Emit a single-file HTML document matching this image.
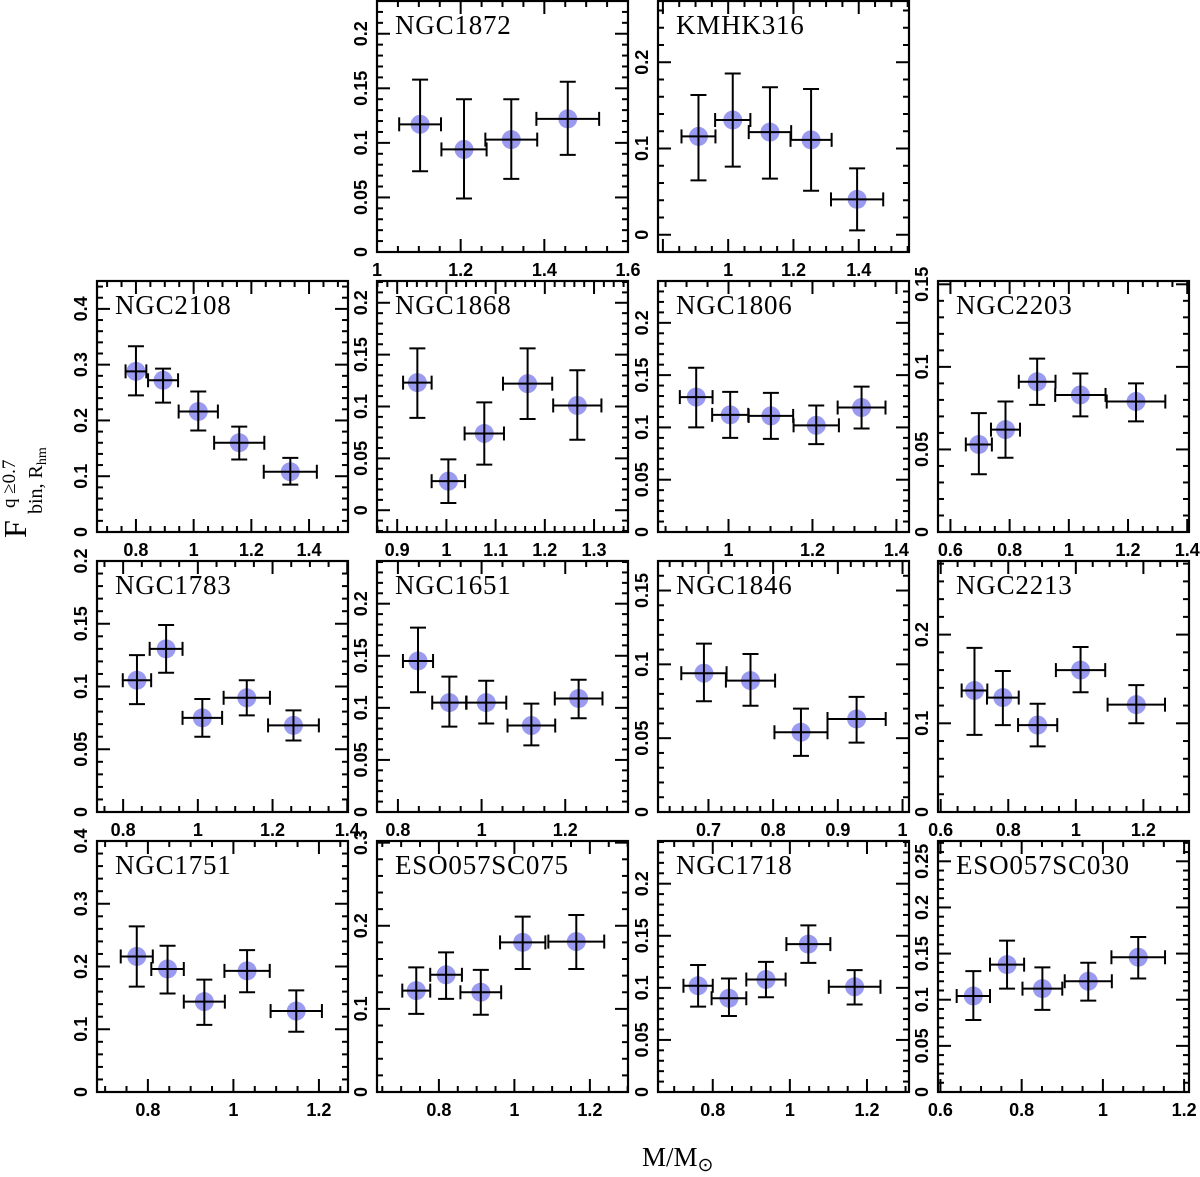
<!DOCTYPE html>
<html><head><meta charset="utf-8">
<style>
html,body{margin:0;padding:0;background:#fff;}
svg{display:block;}
.tl{font-family:"Liberation Sans",sans-serif;font-weight:bold;font-size:18px;fill:#000;}
.tt{font-family:"Liberation Serif",serif;font-size:27px;letter-spacing:0.8px;fill:#000;}
</style></head>
<body>
<svg id="fig" width="1200" height="1177" viewBox="0 0 1200 1177" xmlns="http://www.w3.org/2000/svg">
<g transform="translate(26,538) rotate(-90)">
<text x="0" y="0" font-family="Liberation Serif, serif" font-size="32">F</text>
<text x="30" y="-11" font-family="Liberation Serif, serif" font-size="19">q ≥0.7</text>
<text x="24" y="16" font-family="Liberation Serif, serif" font-size="20">bin, R<tspan font-size="14" dy="4">hm</tspan></text>
</g>
<text x="642" y="1166" font-family="Liberation Serif, serif" font-size="27">M/M<tspan font-size="19" dy="5">⊙</tspan></text>
</svg>
<script>
const panelNames=["NGC1872","KMHK316","NGC2108","NGC1868","NGC1806","NGC2203","NGC1783","NGC1651","NGC1846","NGC2213","NGC1751","ESO057SC075","NGC1718","ESO057SC030"];
const panelCol=[1,2,0,1,2,3,0,1,2,3,0,1,2,3];
const panelRow=[0,0,1,1,1,1,2,2,2,2,3,3,3,3];
const xRange=[[1,1.6],[0.785,1.554],[0.665,1.535],[0.859,1.369],[0.832,1.43],[0.558,1.406],[0.73,1.402],[0.75,1.35],[0.622,1.01],[0.592,1.335],[0.681,1.268],[0.636,1.301],[0.658,1.309],[0.594,1.212]];
const xLabelFrom=[0,0.9,0,0,0,0,0,0,0,0,0,0,0,0];
const yRange=[[0,0.23],[-0.02,0.271],[0,0.45],[-0.021,0.221],[0,0.24],[0,0.152],[0,0.2],[0,0.241],[0,0.17],[0,0.283],[0,0.4],[0,0.302],[0,0.241],[0,0.272]];
const xMajor=[0.2,0.2,0.2,0.1,0.2,0.2,0.2,0.2,0.1,0.2,0.2,0.2,0.2,0.2];
const yMajor=[0.05,0.1,0.1,0.05,0.05,0.05,0.05,0.05,0.05,0.1,0.1,0.1,0.05,0.05];
const massX=[
[1.103,1.208,1.321,1.456],
[0.909,1.014,1.128,1.254,1.395],
[0.80,0.894,1.016,1.158,1.335],
[0.941,1.004,1.077,1.165,1.266],
[0.923,1.004,1.101,1.209,1.317],
[0.696,0.786,0.893,1.039,1.227],
[0.837,0.915,1.012,1.131,1.256],
[0.848,0.923,1.011,1.119,1.232],
[0.693,0.765,0.843,0.929],
[0.70,0.784,0.887,1.014,1.179],
[0.774,0.846,0.932,1.032,1.147],
[0.74,0.819,0.911,1.022,1.164],
[0.762,0.842,0.938,1.048,1.168],
[0.681,0.764,0.851,0.964,1.087]];
const binFrac=[
[0.117,0.094,0.103,0.122],
[0.114,0.133,0.119,0.110,0.041],
[0.288,0.272,0.216,0.160,0.108],
[0.123,0.028,0.074,0.122,0.101],
[0.129,0.112,0.111,0.102,0.119],
[0.053,0.062,0.091,0.083,0.079],
[0.105,0.130,0.075,0.091,0.069],
[0.145,0.105,0.105,0.083,0.109],
[0.094,0.089,0.054,0.063],
[0.137,0.129,0.098,0.160,0.121],
[0.216,0.196,0.144,0.193,0.129],
[0.122,0.141,0.120,0.180,0.181],
[0.102,0.090,0.108,0.142,0.101],
[0.104,0.138,0.112,0.120,0.146]];
const binHi=[
[0.158,0.140,0.140,0.156],
[0.162,0.187,0.171,0.169,0.077],
[0.333,0.293,0.252,0.189,0.133],
[0.156,0.049,0.104,0.156,0.135],
[0.157,0.134,0.133,0.121,0.139],
[0.072,0.079,0.105,0.096,0.090],
[0.125,0.149,0.090,0.105,0.081],
[0.177,0.130,0.126,0.104,0.127],
[0.114,0.107,0.070,0.078],
[0.185,0.159,0.122,0.186,0.143],
[0.264,0.233,0.179,0.226,0.162],
[0.150,0.168,0.147,0.211,0.213],
[0.122,0.109,0.125,0.160,0.117],
[0.131,0.164,0.135,0.140,0.168]];
const binLo=[
[0.074,0.049,0.067,0.089],
[0.063,0.079,0.065,0.051,0.005],
[0.245,0.232,0.182,0.130,0.085],
[0.089,0.007,0.044,0.088,0.068],
[0.100,0.090,0.089,0.084,0.099],
[0.035,0.045,0.077,0.070,0.067],
[0.086,0.111,0.060,0.077,0.057],
[0.115,0.082,0.085,0.064,0.090],
[0.075,0.072,0.038,0.047],
[0.087,0.098,0.074,0.135,0.100],
[0.168,0.157,0.107,0.159,0.096],
[0.094,0.112,0.093,0.148,0.148],
[0.082,0.073,0.091,0.124,0.084],
[0.078,0.112,0.089,0.099,0.123]];
const massErr=[
[0.050,0.054,0.062,0.075],
[0.052,0.054,0.065,0.063,0.080],
[0.036,0.052,0.068,0.087,0.092],
[0.029,0.034,0.040,0.050,0.049],
[0.039,0.043,0.053,0.054,0.057],
[0.044,0.049,0.062,0.085,0.099],
[0.038,0.044,0.053,0.062,0.068],
[0.036,0.041,0.048,0.057,0.057],
[0.035,0.038,0.041,0.045],
[0.038,0.047,0.058,0.073,0.085],
[0.0375,0.038,0.048,0.053,0.060],
[0.037,0.042,0.054,0.060,0.074],
[0.038,0.045,0.051,0.057,0.067],
[0.041,0.042,0.049,0.058,0.066]];

const NS="http://www.w3.org/2000/svg";
const svg=document.getElementById('fig');
const colLeft=[97,377,658,938], rowTop=[1,281,561,841], PW=251, PH=251;
function mk(tag,attrs,parent){const e=document.createElementNS(NS,tag);for(const k in attrs)e.setAttribute(k,attrs[k]);parent.appendChild(e);return e;}
function fmt(v){return String(parseFloat(v.toFixed(3)));}
panelNames.forEach((name,i)=>{
  const L=colLeft[panelCol[i]], T=rowTop[panelRow[i]], R=L+PW, B=T+PH;
  const [x0,x1]=xRange[i], [y0,y1]=yRange[i];
  const sx=v=>L+(v-x0)/(x1-x0)*PW;
  const sy=v=>B-(v-y0)/(y1-y0)*PH;
  const g=mk('g',{},svg);
  
  
  const fr=mk('rect',{x:L,y:T,width:PW,height:PH,fill:'none',stroke:'#000','stroke-width':2.2},g);
  
  
  const xm=xMajor[i], xs=xm>0.15?0.05:0.02;
  const xt=mk('g',{stroke:'#000','stroke-width':2},g);
  
  
  for(let k=Math.ceil(x0/xs-1e-6);k*xs<=x1+1e-6;k++){
    const v=k*xs, maj=Math.abs(v/xm-Math.round(v/xm))<1e-4, len=maj?13:6, px=sx(v);
    mk('line',{x1:px,y1:B,x2:px,y2:B-len},xt);
    mk('line',{x1:px,y1:T,x2:px,y2:T+len},xt);
    if(maj && v>=xLabelFrom[i]-1e-6){const t=mk('text',{x:px,y:B+24,'text-anchor':'middle',class:'tl'},g);t.textContent=fmt(v);
      
      }
  }
  const ym=yMajor[i], ys=ym>0.07?0.02:0.01;
  const yt=mk('g',{stroke:'#000','stroke-width':2},g);
  
  
  for(let k=Math.ceil(y0/ys-1e-6);k*ys<=y1+1e-6;k++){
    const v=k*ys, maj=Math.abs(v/ym-Math.round(v/ym))<1e-4, len=maj?13:6, py=sy(v);
    mk('line',{x1:L,y1:py,x2:L+len,y2:py},yt);
    mk('line',{x1:R,y1:py,x2:R-len,y2:py},yt);
    if(maj){const t=mk('text',{x:0,y:0,'text-anchor':'middle',class:'tl',transform:'translate('+(L-10)+','+py+') rotate(-90)'},g);t.textContent=fmt(v);
      
      }
  }
  const title=mk('text',{x:L+18,y:T+33,class:'tt'},g);
  title.textContent=name;
  
  
  massX[i].forEach((mx,j)=>{
    const cx=sx(mx), cy=sy(binFrac[i][j]);
    const pg=mk('g',{},g);
    
    
    mk('circle',{cx:cx,cy:cy,r:9.5,fill:'#9a9af0'},pg);
    const xl=sx(mx-massErr[i][j]), xr=sx(mx+massErr[i][j]), yh=sy(binHi[i][j]), yl=sy(binLo[i][j]);
    const eb=mk('g',{stroke:'#000','stroke-width':2},pg);
    
    
    mk('line',{x1:xl,y1:cy,x2:xr,y2:cy},eb);
    mk('line',{x1:xl,y1:cy-7,x2:xl,y2:cy+7},eb);
    mk('line',{x1:xr,y1:cy-7,x2:xr,y2:cy+7},eb);
    mk('line',{x1:cx,y1:yh,x2:cx,y2:yl},eb);
    mk('line',{x1:cx-8,y1:yh,x2:cx+8,y2:yh},eb);
    mk('line',{x1:cx-8,y1:yl,x2:cx+8,y2:yl},eb);
  });
});
</script>
</body></html>
